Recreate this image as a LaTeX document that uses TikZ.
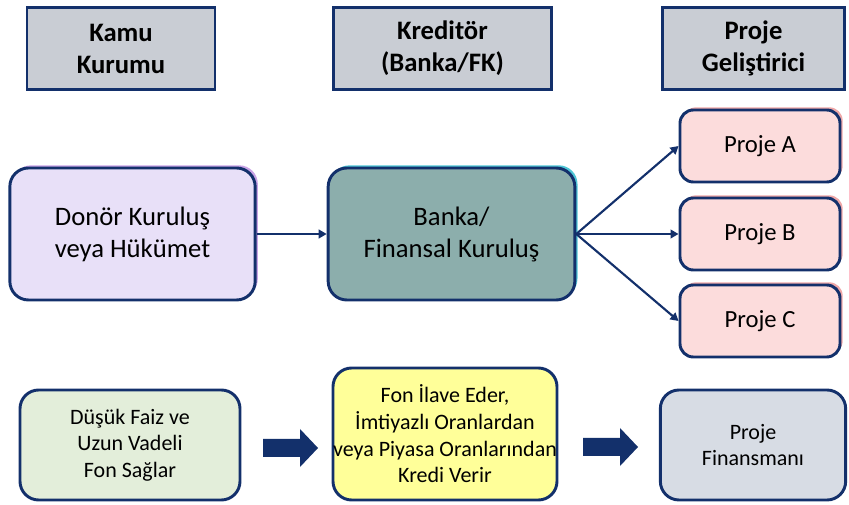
\documentclass[tikz,border=0pt]{standalone}
\usepackage{fontspec}
\setmainfont{Carlito}
\usetikzlibrary{arrows.meta, positioning, shadows}
\definecolor{cnavy}{HTML}{13306B}
\definecolor{chead}{HTML}{C9CDD4}
\definecolor{clilac}{HTML}{E8E0F8}
\definecolor{clilacs}{HTML}{C9A3E6}
\definecolor{cteal}{HTML}{8CAEAC}
\definecolor{cteals}{HTML}{4FC6D6}
\definecolor{cpink}{HTML}{FCDCDC}
\definecolor{cpinks}{HTML}{EFA8A8}
\definecolor{cgreen}{HTML}{E3EEDA}
\definecolor{cyellow}{HTML}{FFFF99}
\definecolor{cslate}{HTML}{D7DCE4}
\tikzset{
  every picture/.style={font=\fontsize{20}{24}\selectfont},
  head/.style={draw=cnavy, fill=chead, line width=2.2pt, font=\bfseries\fontsize{20}{24}\selectfont, align=center, minimum height=61pt},
  card/.style={draw=cnavy, fill=#1, line width=2.2pt, rounded corners=14pt, align=center},
  glow/.style={drop shadow={shadow xshift=2pt, shadow yshift=2pt, fill=#1, opacity=1}},
  small/.style={font=\fontsize{16.5}{20}\selectfont},
  link/.style={-{Triangle[length=6pt,width=6.5pt]}, draw=cnavy, line width=1.6pt},
}

\begin{document}
\begin{tikzpicture}[x=0.75pt, y=-0.75pt]
  \useasboundingbox (0,0) rectangle (849,505);
  % column heads
  \node[head, minimum width=141pt] (hkamu) at (121,48.5) {Kamu\\Kurumu};
  \node[head, minimum width=164pt] (hkredi) at (442.5,48.5) {Kreditör\\(Banka/FK)};
  \node[head, minimum width=137pt] (hproje) at (753.5,48.5) {Proje\\Geliştirici};
  % middle row: flow of money
  \node[card=clilac, glow=clilacs, minimum width=184pt, minimum height=99pt] (donor) at (132.5,234) {Donör Kuruluş\\veya Hükümet};
  \node[card=cteal, glow=cteals, minimum width=185pt, minimum height=99pt] (banka) at (451.5,234) {Banka/\\Finansal Kuruluş};
  \node[card=cpink, glow=cpinks, minimum width=120pt, minimum height=54pt, rounded corners=10pt, font=\fontsize{18.5}{22}\selectfont] (pa) at (760,146) {Proje A};
  \node[card=cpink, glow=cpinks, minimum width=120pt, minimum height=54pt, rounded corners=10pt, font=\fontsize{18.5}{22}\selectfont] (pb) at (760,234) {Proje B};
  \node[card=cpink, glow=cpinks, minimum width=120pt, minimum height=54pt, rounded corners=10pt, font=\fontsize{18.5}{22}\selectfont] (pc) at (760,321) {Proje C};
  \draw[link] (donor) -- (banka);
  \foreach \p in {pa,pb,pc}
    \draw[link] (banka.east) -- (\p.west);
  % bottom row: roles
  \node[card=cgreen, small, minimum width=165pt, minimum height=82.5pt] (fon) at (130,445) {Düşük Faiz ve\\Uzun Vadeli\\Fon Sağlar};
  \node[card=cyellow, small, minimum width=168pt, minimum height=99pt, inner sep=0pt] (kredi) at (445,434) {Fon İlave Eder,\\İmtiyazlı Oranlardan\\veya Piyasa Oranlarından\\Kredi Verir};
  \node[card=cslate, small, minimum width=139pt, minimum height=82.5pt] (finans) at (753,445) {Proje\\Finansmanı};
  % block arrows between the roles
  \foreach \x/\y in {263/448, 583/447}
    \fill[cnavy] (\x,\y-9) -- ++(37,0) -- ++(0,-10) -- ++(18,19) -- ++(-18,19) -- ++(0,-10) -- ++(-37,0) -- cycle;
\end{tikzpicture}
\end{document}
